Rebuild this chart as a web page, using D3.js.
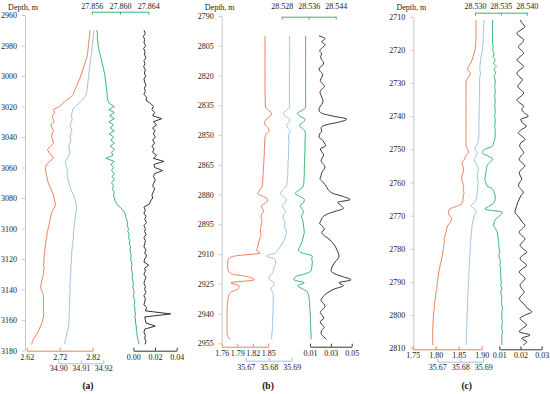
<!DOCTYPE html>
<html>
<head>
<meta charset="utf-8">
<script src="https://cdnjs.cloudflare.com/ajax/libs/d3/7.8.5/d3.min.js"></script>
<style>
  body { margin: 0; background: #fff; }
  svg { display: block; }
</style>
</head>
<body>
<script>

// Colours of the four profiles
var colTemp = "#ee7f5c";
var colSal = "#9fc3e3";
var colSigma = "#36b870";
var colTurb = "#333333";

// ---- Panel (a): depth grid 2970..3176 m, every 2 m
var depthA = d3.range(2970, 3177, 2);

var tempA = [2.812, 2.811, 2.810, 2.809, 2.808, 2.807, 2.806, 2.805, 2.804, 2.802,
  2.799, 2.796, 2.793, 2.790, 2.787, 2.784, 2.780, 2.776, 2.772, 2.768,
  2.764, 2.761, 2.753, 2.739, 2.729, 2.719, 2.701, 2.705, 2.698, 2.700,
  2.703, 2.693, 2.697, 2.701, 2.697, 2.695, 2.699, 2.701, 2.693, 2.683,
  2.687, 2.695, 2.701, 2.689, 2.681, 2.677, 2.677, 2.679, 2.681, 2.683,
  2.685, 2.689, 2.693, 2.697, 2.701, 2.703, 2.705, 2.707, 2.705, 2.699,
  2.695, 2.693, 2.691, 2.689, 2.687, 2.685, 2.683, 2.681, 2.681, 2.679,
  2.677, 2.676, 2.675, 2.674, 2.673, 2.672, 2.672, 2.671, 2.673, 2.671,
  2.671, 2.668, 2.666, 2.664, 2.662, 2.664, 2.668, 2.671, 2.671, 2.671,
  2.671, 2.671, 2.671, 2.672, 2.671, 2.668, 2.666, 2.662, 2.658, 2.654,
  2.648, 2.642, 2.638, 2.635];

var salA = [34.9159, 34.9157, 34.9156, 34.9154, 34.9153, 34.9151, 34.9150, 34.9148, 34.9147, 34.9144,
  34.9142, 34.9141, 34.9139, 34.9138, 34.9136, 34.9135, 34.9133, 34.9132, 34.9130, 34.9129,
  34.9127, 34.9124, 34.9117, 34.9105, 34.9090, 34.9076, 34.9064, 34.9061, 34.9058, 34.9062,
  34.9059, 34.9053, 34.9056, 34.9061, 34.9055, 34.9052, 34.9056, 34.9052, 34.9046, 34.9049,
  34.9052, 34.9047, 34.9040, 34.9031, 34.9034, 34.9037, 34.9040, 34.9039, 34.9041, 34.9044,
  34.9047, 34.9052, 34.9055, 34.9061, 34.9067, 34.9073, 34.9076, 34.9079, 34.9081, 34.9080,
  34.9077, 34.9076, 34.9074, 34.9073, 34.9071, 34.9070, 34.9068, 34.9067, 34.9067, 34.9065,
  34.9064, 34.9062, 34.9061, 34.9059, 34.9060, 34.9058, 34.9058, 34.9056, 34.9057, 34.9055,
  34.9055, 34.9053, 34.9054, 34.9052, 34.9051, 34.9053, 34.9052, 34.9050, 34.9051, 34.9050,
  34.9049, 34.9050, 34.9049, 34.9048, 34.9049, 34.9047, 34.9047, 34.9046, 34.9043, 34.9039,
  34.9036, 34.9033, 34.9030, 34.9028];

var sigmaA = [27.8567, 27.8568, 27.8568, 27.8568, 27.8569, 27.8569, 27.8570, 27.8571, 27.8572, 27.8573,
  27.8574, 27.8575, 27.8576, 27.8577, 27.8578, 27.8579, 27.8579, 27.8580, 27.8580, 27.8581,
  27.8581, 27.8582, 27.8582, 27.8583, 27.8585, 27.8592, 27.8584, 27.8592, 27.8585, 27.8592,
  27.8584, 27.8591, 27.8586, 27.8592, 27.8585, 27.8591, 27.8587, 27.8592, 27.8586, 27.8592,
  27.8588, 27.8590, 27.8580, 27.8592, 27.8587, 27.8591, 27.8588, 27.8592, 27.8589, 27.8592,
  27.8588, 27.8591, 27.8589, 27.8592, 27.8591, 27.8592, 27.8593, 27.8596, 27.8600, 27.8604,
  27.8607, 27.8608, 27.8609, 27.8611, 27.8610, 27.8612, 27.8611, 27.8613, 27.8612, 27.8614,
  27.8613, 27.8615, 27.8614, 27.8615, 27.8616, 27.8615, 27.8616, 27.8617, 27.8616, 27.8617,
  27.8618, 27.8617, 27.8618, 27.8619, 27.8618, 27.8619, 27.8620, 27.8619, 27.8620, 27.8621,
  27.8620, 27.8621, 27.8621, 27.8622, 27.8621, 27.8622, 27.8622, 27.8623, 27.8623, 27.8624,
  27.8624, 27.8625, 27.8626, 27.8627];

var turbA = [0.0098, 0.0111, 0.0092, 0.0105, 0.0098, 0.0114, 0.0095, 0.0108, 0.0102, 0.0117,
  0.0098, 0.0108, 0.0095, 0.0111, 0.0102, 0.0114, 0.0098, 0.0105, 0.0117, 0.0102,
  0.0111, 0.0098, 0.0123, 0.0117, 0.0160, 0.0185, 0.0172, 0.0197, 0.0178, 0.0262,
  0.0185, 0.0215, 0.0178, 0.0200, 0.0185, 0.0203, 0.0178, 0.0197, 0.0172, 0.0191,
  0.0178, 0.0215, 0.0185, 0.0283, 0.0191, 0.0197, 0.0271, 0.0197, 0.0185, 0.0203,
  0.0191, 0.0178, 0.0197, 0.0185, 0.0172, 0.0178, 0.0160, 0.0148, 0.0098, 0.0111,
  0.0098, 0.0117, 0.0105, 0.0123, 0.0098, 0.0111, 0.0105, 0.0117, 0.0098, 0.0111,
  0.0105, 0.0098, 0.0117, 0.0105, 0.0123, 0.0105, 0.0098, 0.0142, 0.0105, 0.0111,
  0.0098, 0.0117, 0.0105, 0.0098, 0.0111, 0.0105, 0.0117, 0.0098, 0.0111, 0.0105,
  0.0098, 0.0123, 0.0111, 0.0345, 0.0105, 0.0111, 0.0117, 0.0203, 0.0105, 0.0098,
  0.0111, 0.0105, 0.0117, 0.0108];

// ---- Panel (b): depth grid 2800..2953 m, every 1.5 m
var depthB = d3.range(2800, 2953.1, 1.5);

var tempB = [1.8436, 1.8436, 1.8436, 1.8436, 1.8436, 1.8436, 1.8436, 1.8436, 1.8436, 1.8436,
  1.8436, 1.8436, 1.8436, 1.8436, 1.8436, 1.8436, 1.8436, 1.8436, 1.8436, 1.8436,
  1.8436,
  1.8442, 1.8442, 1.8442, 1.8449, 1.8500, 1.8564, 1.8539, 1.8468, 1.8423, 1.8436,
  1.8500, 1.8513, 1.8461, 1.8436, 1.8436, 1.8429, 1.8429, 1.8423, 1.8423, 1.8423,
  1.8416, 1.8416, 1.8410, 1.8410, 1.8404, 1.8404, 1.8397, 1.8397, 1.8391, 1.8391,
  1.8371, 1.8333, 1.8294, 1.8404, 1.8487, 1.8468, 1.8371, 1.8384, 1.8410, 1.8371,
  1.8359, 1.8378, 1.8365, 1.8359, 1.8346, 1.8352, 1.8359, 1.8339, 1.8320, 1.8307,
  1.8294, 1.8275, 1.8339, 1.7857, 1.7729, 1.7716, 1.7716, 1.7716, 1.7729, 1.7793,
  1.8114, 1.8230, 1.7780, 1.7934, 1.7921, 1.7793, 1.7741, 1.7729, 1.7716, 1.7709,
  1.7709, 1.7703, 1.7703, 1.7703, 1.7703, 1.7703, 1.7703, 1.7703, 1.7703, 1.7703,
  1.7716, 1.7761];

var salB = [35.6891, 35.6891, 35.6891, 35.6891, 35.6891, 35.6891, 35.6891, 35.6891, 35.6891, 35.6891,
  35.6891, 35.6891, 35.6890, 35.6890, 35.6890, 35.6890, 35.6890, 35.6890, 35.6890, 35.6890,
  35.6890, 35.6890, 35.6890, 35.6890, 35.6890,
  35.6878, 35.6864, 35.6871, 35.6891, 35.6888, 35.6877, 35.6883, 35.6894, 35.6888, 35.6886,
  35.6887, 35.6888, 35.6887, 35.6887, 35.6886, 35.6886, 35.6886, 35.6884, 35.6884, 35.6884,
  35.6883, 35.6883, 35.6883, 35.6881, 35.6880, 35.6878, 35.6871, 35.6859, 35.6851, 35.6864,
  35.6877, 35.6871, 35.6859, 35.6865, 35.6874, 35.6865, 35.6862, 35.6868, 35.6871, 35.6868,
  35.6874, 35.6877, 35.6874, 35.6871, 35.6865, 35.6857, 35.6849, 35.6839, 35.6828, 35.6791,
  35.6825, 35.6830, 35.6828, 35.6822, 35.6820, 35.6813, 35.6801, 35.6804, 35.6825, 35.6819,
  35.6810, 35.6816, 35.6820, 35.6820, 35.6820, 35.6819, 35.6819, 35.6819, 35.6819, 35.6817,
  35.6817, 35.6817, 35.6816, 35.6816, 35.6816, 35.6814, 35.6813, 35.6813];

var sigmaB = [28.5351, 28.5351, 28.5351, 28.5351, 28.5351, 28.5351, 28.5351, 28.5351, 28.5351, 28.5351,
  28.5351, 28.5351, 28.5351, 28.5351, 28.5351, 28.5351, 28.5351, 28.5351, 28.5351, 28.5351,
  28.5351, 28.5351, 28.5351, 28.5351, 28.5351,
  28.5341, 28.5327, 28.5334, 28.5349, 28.5344, 28.5333, 28.5339, 28.5349, 28.5350, 28.5350,
  28.5349, 28.5349, 28.5349, 28.5349, 28.5349, 28.5348, 28.5348, 28.5348, 28.5348, 28.5347,
  28.5347, 28.5347, 28.5347, 28.5346, 28.5346, 28.5345, 28.5341, 28.5329, 28.5320, 28.5334,
  28.5347, 28.5345, 28.5335, 28.5339, 28.5345, 28.5341, 28.5339, 28.5342, 28.5344, 28.5345,
  28.5346, 28.5347, 28.5345, 28.5343, 28.5341, 28.5337, 28.5333, 28.5329, 28.5341, 28.5371,
  28.5369, 28.5371, 28.5370, 28.5369, 28.5367, 28.5349, 28.5320, 28.5316, 28.5347, 28.5327,
  28.5341, 28.5355, 28.5359, 28.5361, 28.5362, 28.5363, 28.5363, 28.5364, 28.5364, 28.5365,
  28.5365, 28.5365, 28.5366, 28.5366, 28.5366, 28.5367, 28.5367, 28.5367];

var turbB = [0.0186, 0.0244, 0.0212, 0.0244, 0.0218, 0.0193, 0.0212, 0.0202, 0.0212, 0.0231,
  0.0218, 0.0186, 0.0199, 0.0222, 0.0212, 0.0199, 0.0218, 0.0238, 0.0212, 0.0196,
  0.0206, 0.0218, 0.0225, 0.0212, 0.0193, 0.0186, 0.0212, 0.0324, 0.0452, 0.0378,
  0.0244, 0.0206, 0.0212, 0.0193, 0.0186, 0.0218, 0.0238, 0.0250, 0.0199, 0.0212,
  0.0231, 0.0218, 0.0206, 0.0225, 0.0244, 0.0231, 0.0212, 0.0206, 0.0196, 0.0218,
  0.0244, 0.0263, 0.0282, 0.0324, 0.0420, 0.0484, 0.0366, 0.0398, 0.0420, 0.0340,
  0.0260, 0.0218, 0.0206, 0.0193, 0.0218, 0.0238, 0.0212, 0.0231, 0.0270, 0.0302,
  0.0327, 0.0346, 0.0359, 0.0372, 0.0378, 0.0366, 0.0340, 0.0321, 0.0308, 0.0302,
  0.0340, 0.0420, 0.0494, 0.0378, 0.0420, 0.0340, 0.0282, 0.0244, 0.0218, 0.0206,
  0.0231, 0.0244, 0.0218, 0.0199, 0.0218, 0.0231, 0.0199, 0.0212, 0.0238, 0.0212,
  0.0206, 0.0228, 0.0257];

// ---- Panel (c): depth grid 2711..2809 m, every 1 m
var depthC = d3.range(2711, 2810, 1);

var tempC = [1.8877, 1.8877, 1.8877, 1.8877, 1.8877, 1.8877, 1.8877, 1.8870, 1.8862, 1.8855,
  1.8833, 1.8812, 1.8790, 1.8761, 1.8710, 1.8696, 1.8754, 1.8725, 1.8674, 1.8659,
  1.8659, 1.8659, 1.8659, 1.8659, 1.8659, 1.8659, 1.8659, 1.8659, 1.8659, 1.8659,
  1.8659, 1.8659, 1.8659, 1.8659, 1.8659, 1.8659, 1.8659, 1.8659, 1.8659, 1.8696,
  1.8710, 1.8652, 1.8623, 1.8572, 1.8587, 1.8609, 1.8594, 1.8572, 1.8565, 1.8587,
  1.8609, 1.8594, 1.8616, 1.8601, 1.8594, 1.8580, 1.8493, 1.8304, 1.8275, 1.8304,
  1.8348, 1.8319, 1.8261, 1.8239, 1.8225, 1.8203, 1.8181, 1.8188, 1.8174, 1.8167,
  1.8152, 1.8145, 1.8130, 1.8116, 1.8094, 1.8087, 1.8065, 1.8058, 1.8050, 1.8036,
  1.8029, 1.8029, 1.8007, 1.8000, 1.7993, 1.7978, 1.7971, 1.7971, 1.7957, 1.7949,
  1.7949, 1.7942, 1.7942, 1.7935, 1.7935, 1.7935, 1.7935, 1.7935, 1.7935];

var salC = [35.6903, 35.6903, 35.6901, 35.6901, 35.6900, 35.6900, 35.6900, 35.6899, 35.6897, 35.6896,
  35.6893, 35.6890, 35.6888, 35.6887, 35.6885, 35.6885, 35.6888, 35.6885, 35.6884, 35.6884,
  35.6884, 35.6884, 35.6884, 35.6884, 35.6884, 35.6882, 35.6882, 35.6882, 35.6882, 35.6882,
  35.6881, 35.6881, 35.6881, 35.6881, 35.6881, 35.6881, 35.6879, 35.6876, 35.6869, 35.6863,
  35.6874, 35.6869, 35.6860, 35.6866, 35.6875, 35.6878, 35.6876, 35.6874, 35.6875, 35.6878,
  35.6876, 35.6875, 35.6874, 35.6872, 35.6869, 35.6863, 35.6846, 35.6863, 35.6869, 35.6860,
  35.6857, 35.6854, 35.6851, 35.6850, 35.6849, 35.6847, 35.6846, 35.6844, 35.6844, 35.6843,
  35.6843, 35.6841, 35.6841, 35.6840, 35.6840, 35.6838, 35.6838, 35.6837, 35.6837, 35.6835,
  35.6835, 35.6834, 35.6834, 35.6832, 35.6832, 35.6832, 35.6831, 35.6831, 35.6831, 35.6829,
  35.6829, 35.6829, 35.6828, 35.6828, 35.6828, 35.6826, 35.6826, 35.6826, 35.6826];

var sigmaC = [28.5334, 28.5334, 28.5334, 28.5334, 28.5334, 28.5334, 28.5334, 28.5334, 28.5335, 28.5334,
  28.5337, 28.5335, 28.5339, 28.5336, 28.5341, 28.5337, 28.5340, 28.5337, 28.5339, 28.5339,
  28.5338, 28.5339, 28.5339, 28.5338, 28.5339, 28.5339, 28.5338, 28.5339, 28.5339, 28.5338,
  28.5339, 28.5339, 28.5338, 28.5339, 28.5339, 28.5339, 28.5338, 28.5336, 28.5334, 28.5319,
  28.5314, 28.5325, 28.5334, 28.5328, 28.5323, 28.5322, 28.5321, 28.5320, 28.5319, 28.5321,
  28.5323, 28.5334, 28.5337, 28.5339, 28.5339, 28.5337, 28.5329, 28.5319, 28.5353, 28.5348,
  28.5340, 28.5337, 28.5336, 28.5340, 28.5343, 28.5344, 28.5345, 28.5346, 28.5346, 28.5347,
  28.5348, 28.5346, 28.5348, 28.5349, 28.5348, 28.5350, 28.5349, 28.5350, 28.5350, 28.5351,
  28.5350, 28.5352, 28.5350, 28.5351, 28.5352, 28.5351, 28.5352, 28.5353, 28.5352, 28.5352,
  28.5352, 28.5353, 28.5352, 28.5352, 28.5353, 28.5352, 28.5352, 28.5352, 28.5352];

var turbC = [0.0198, 0.0209, 0.0221, 0.0202, 0.0183, 0.0198, 0.0215, 0.0206, 0.0190, 0.0202,
  0.0215, 0.0199, 0.0183, 0.0199, 0.0215, 0.0198, 0.0183, 0.0193, 0.0209, 0.0198,
  0.0187, 0.0201, 0.0215, 0.0202, 0.0183, 0.0196, 0.0215, 0.0206, 0.0218, 0.0237,
  0.0202, 0.0209, 0.0228, 0.0206, 0.0190, 0.0206, 0.0221, 0.0202, 0.0196, 0.0206,
  0.0215, 0.0202, 0.0194, 0.0206, 0.0221, 0.0206, 0.0194, 0.0199, 0.0206, 0.0196,
  0.0190, 0.0202, 0.0213, 0.0202, 0.0194, 0.0187, 0.0182, 0.0177, 0.0174, 0.0187,
  0.0198, 0.0209, 0.0221, 0.0206, 0.0194, 0.0206, 0.0221, 0.0209, 0.0198, 0.0213,
  0.0229, 0.0209, 0.0198, 0.0213, 0.0229, 0.0209, 0.0194, 0.0209, 0.0221, 0.0209,
  0.0198, 0.0206, 0.0217, 0.0206, 0.0194, 0.0206, 0.0221, 0.0234, 0.0253, 0.0221,
  0.0198, 0.0213, 0.0229, 0.0209, 0.0194, 0.0245, 0.0206, 0.0229, 0.0213];


var W = 550, H = 394;
var FONT = "'Liberation Serif', 'Times New Roman', serif";

var svg = d3.select("body").append("svg")
  .attr("width", W)
  .attr("height", H);


function styleAxis(g, color, textColor) {
  g.attr("font-family", FONT).attr("font-size", 8);
  g.select(".domain").attr("stroke", color).attr("stroke-width", 1);
  g.selectAll(".tick line").attr("stroke", color);
  g.selectAll(".tick text").attr("fill", textColor || "#222");
}


function drawPanel(p) {
  var g = svg.append("g").attr("class", "panel");

  var y = d3.scaleLinear().domain(p.depthDomain).range(p.depthRange);

  // depth axis
  var yAxis = d3.axisLeft(y)
    .tickValues(d3.range(p.depthDomain[0], p.depthDomain[1] + 0.1, p.depthStep))
    .tickSize(3)
    .tickSizeOuter(0)
    .tickPadding(5)
    .tickFormat(d3.format("d"));
  var ya = g.append("g")
    .attr("transform", "translate(" + p.axisX + ",0)")
    .call(yAxis);
  styleAxis(ya, "#c9c9c9");

  g.append("text")
    .attr("x", p.axisX - 2)
    .attr("y", 10)
    .attr("text-anchor", "middle")
    .attr("font-family", FONT)
    .attr("font-size", 8)
    .attr("fill", "#222")
    .text("Depth, m");

  // one value axis + profile line per series
  p.series.forEach(function(s) {
    var x = d3.scaleLinear().domain(s.domain).range(s.range);
    var axis = (s.top ? d3.axisTop(x) : d3.axisBottom(x))
      .tickValues(s.ticks)
      .tickSize(-3)
      .tickSizeOuter(0)
      .tickPadding(s.top ? s.axisY - 8.8 : s.pad)
      .tickFormat(d3.format(s.fmt));
    var xa = g.append("g")
      .attr("transform", "translate(0," + s.axisY + ")")
      .call(axis);
    styleAxis(xa, s.color);

    var line = d3.line()
      .x(function(d) { return x(d); })
      .y(function(d, i) { return y(p.depth[i]); })
      .curve(p.curve);

    g.append("path")
      .datum(s.values.slice(0, p.depth.length))
      .attr("fill", "none")
      .attr("stroke", s.color)
      .attr("stroke-width", 1)
      .attr("stroke-linejoin", "round")
      .attr("d", line);
  });

  g.append("text")
    .attr("x", p.labelX)
    .attr("y", 389)
    .attr("text-anchor", "middle")
    .attr("font-family", FONT)
    .attr("font-size", 9.5)
    .attr("font-weight", "bold")
    .attr("fill", "#111")
    .text(p.label);
}


drawPanel({
  label: "(a)", labelX: 88,
  depth: depthA, depthDomain: [2960, 3180], depthRange: [15, 350.5], depthStep: 20,
  axisX: 25, curve: d3.curveLinear,
  series: [
    { values: tempA, domain: [2.62, 2.82], range: [26.7, 92.7], axisY: 350.7,
      ticks: [2.62, 2.72, 2.82], fmt: ".2f", color: colTemp, pad: 4 },
    { values: salA, domain: [34.90, 34.92], range: [58.3, 103.3], axisY: 363.3,
      ticks: [34.90, 34.91, 34.92], fmt: ".2f", color: colSal, pad: 2.5 },
    { values: sigmaA, domain: [27.856, 27.864], range: [91.7, 148.3], axisY: 11.7, top: true,
      ticks: [27.856, 27.860, 27.864], fmt: ".3f", color: colSigma },
    { values: turbA, domain: [0, 0.04], range: [133.3, 176.7], axisY: 350.7,
      ticks: [0, 0.02, 0.04], fmt: ".2f", color: colTurb, pad: 4 }
  ]
});

drawPanel({
  label: "(b)", labelX: 268,
  depth: depthB, depthDomain: [2790, 2955], depthRange: [16, 343.3], depthStep: 15,
  axisX: 221.7, curve: d3.curveMonotoneY,
  series: [
    { values: tempB, domain: [1.76, 1.85], range: [221.7, 268.3], axisY: 346.7,
      ticks: [1.76, 1.79, 1.82, 1.85], fmt: ".2f", color: colTemp, pad: 3.5 },
    { values: salB, domain: [35.67, 35.69], range: [245.7, 291.7], axisY: 360.7,
      ticks: [35.67, 35.68, 35.69], fmt: ".2f", color: colSal, pad: 4 },
    { values: sigmaB, domain: [28.528, 28.544], range: [281.7, 335.7], axisY: 16.7, top: true,
      ticks: [28.528, 28.536, 28.544], fmt: ".3f", color: colSigma },
    { values: turbB, domain: [0.01, 0.05], range: [310, 351.7], axisY: 346.7,
      ticks: [0.01, 0.03, 0.05], fmt: ".2f", color: colTurb, pad: 3.5 }
  ]
});

drawPanel({
  label: "(c)", labelX: 466.7,
  depth: depthC, depthDomain: [2710, 2810], depthRange: [16.7, 348.3], depthStep: 10,
  axisX: 413.3, curve: d3.curveMonotoneY,
  series: [
    { values: tempC, domain: [1.75, 1.90], range: [412.7, 481.7], axisY: 349.3,
      ticks: [1.75, 1.80, 1.85, 1.90], fmt: ".2f", color: colTemp, pad: 3.5 },
    { values: salC, domain: [35.67, 35.69], range: [437.3, 483.3], axisY: 361.7,
      ticks: [35.67, 35.68, 35.69], fmt: ".2f", color: colSal, pad: 2.5 },
    { values: sigmaC, domain: [28.530, 28.540], range: [475, 526.7], axisY: 12.7, top: true,
      ticks: [28.530, 28.535, 28.540], fmt: ".3f", color: colSigma },
    { values: turbC, domain: [0.01, 0.03], range: [499.3, 541.7], axisY: 349.3,
      ticks: [0.01, 0.02, 0.03], fmt: ".2f", color: colTurb, pad: 3.5 }
  ]
});

</script>
</body>
</html>
